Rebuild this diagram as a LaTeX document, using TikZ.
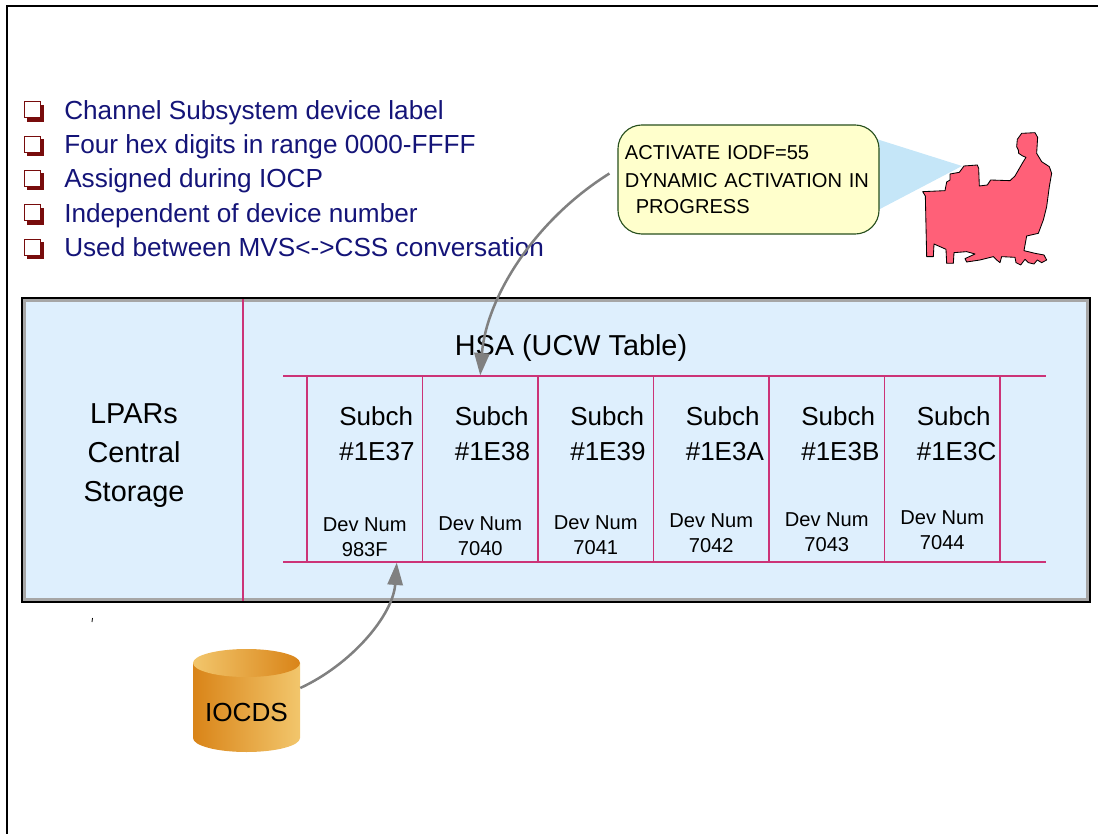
\documentclass[tikz,border=0pt]{standalone}
\usepackage{fontspec}
\setmainfont{Liberation Sans}
\usepackage{xcolor}
\definecolor{marino}{RGB}{20,20,120}
\definecolor{granate}{RGB}{120,12,12}
\definecolor{rosado}{RGB}{204,51,119}
\definecolor{celeste}{RGB}{222,239,253}
\definecolor{crema}{RGB}{255,255,204}
\definecolor{verdeosc}{RGB}{40,80,30}
\definecolor{haz}{RGB}{197,230,248}
\definecolor{salmon}{RGB}{255,96,120}
\definecolor{grisflecha}{RGB}{128,128,128}
\definecolor{naranjaosc}{RGB}{217,132,24}
\definecolor{naranjacla}{RGB}{242,198,108}
\usepackage{tikz}
\usetikzlibrary{positioning, arrows.meta, calc}

\begin{document}
\begin{tikzpicture}[x=0.025cm, y=-0.025cm,
    punto/.style={anchor=base west, text=marino, font=\fontsize{18.6}{22}\selectfont, inner sep=0pt},
    celda/.style={draw=rosado, line width=0.8pt, minimum width=2.8875cm, minimum height=4.65cm, inner sep=0pt},
    flecha/.style={grisflecha, line width=1.8pt, -{Triangle[length=0.56cm, width=0.38cm]}}]
    \useasboundingbox (0,0) rectangle (1098,834);
    % Marco de la pagina
    \draw[line width=0.8pt] (1098,6) -- (7,6) -- (7,834);

    % Lista con casillas
    \foreach \t [count=\i] in {Channel Subsystem device label, Four hex digits in range 0000-FFFF, Assigned during IOCP, Independent of device number, Used between MVS<->CSS conversation} {
        \fill[granate] (27,{70.35+34.35*\i}) rectangle ++(17,17);
        \draw[granate, fill=white, line width=0.7pt] (24,{67.35+34.35*\i}) rectangle ++(16,16);
        \node[punto] (b\i) at (64,{84.95+34.35*\i}) {\t};
    }

    % Globo con el mensaje del operador
    \fill[haz] (870,137) -- (962,166) -- (878,210) -- cycle;
    \node[draw=verdeosc, fill=crema, rounded corners=0.6cm, line width=0.8pt, minimum width=6.525cm, minimum height=2.725cm, text width=6.175cm, inner xsep=0.175cm, align=left, font=\fontsize{14.3}{18.5}\selectfont] (globo) at (748.5,179.5) {\vspace*{0.05cm}ACTIVATE IODF=55\\DYNAMIC ACTIVATION IN\\\hspace*{0.27cm}PROGRESS};

    % Operador en la consola
    \begin{scope}[shift={(900,120)}, scale=0.3333]
        \draw[fill=salmon, line width=0.6pt, line join=round] (68,215) -- (135,212) -- (140,186) -- (150,180) -- (150,162) -- (178,157) -- (192,138) -- (232,135) -- (236,145) -- (238,198) -- (262,195) -- (272,180) -- (330,182) -- (345,168) -- (368,128) -- (378,112) -- (368,108) -- (356,100) -- (355,90) -- (350,80) -- (352,58) -- (365,40) -- (405,38) -- (413,52) -- (410,100) -- (425,125) -- (448,140) -- (455,160) -- (448,200) -- (440,260) -- (430,300) -- (415,340) -- (380,348) -- (372,392) -- (405,400) -- (432,405) -- (440,420) -- (425,428) -- (412,420) -- (402,432) -- (385,428) -- (375,418) -- (362,435) -- (348,428) -- (345,412) -- (305,410) -- (300,428) -- (290,420) -- (280,410) -- (240,420) -- (200,426) -- (195,416) -- (225,402) -- (200,395) -- (162,398) -- (160,430) -- (140,430) -- (138,388) -- (102,372) -- (100,410) -- (80,410) -- (76,228) -- cycle;
    \end{scope}

    % Almacenamiento central
    \fill[celeste] (22,298) rectangle (1090,602);
    \draw[gray!70, line width=2pt] (24.5,300.5) rectangle (1087.5,599.5);
    \draw[line width=1pt] (22,298) rectangle (1090,602);
    \draw[rosado, line width=0.8pt] (243,299) -- (243,601);
    \node[align=center, font=\fontsize{20.5}{27.7}\selectfont] (lpar) at (134,456) {LPARs\\Central\\Storage};
    \node[font=\fontsize{20.5}{24}\selectfont] (hsa) at (571,348) {HSA (UCW Table)};

    % Tabla de subcanales
    \draw[rosado, line width=0.8pt] (283,376) -- (1046,376);
    \draw[rosado, line width=0.8pt] (283,562) -- (1046,562);
    \foreach \s/\d [count=\i] in {1E37/983F, 1E38/7040, 1E39/7041, 1E3A/7042, 1E3B/7043, 1E3C/7044} {
        \node[celda] (c\i) at ({249.25+115.5*\i},469) {};
        \node[anchor=west, align=left, inner sep=0pt, font=\fontsize{18.5}{25}\selectfont] (s\i) at ({223.5+115.5*\i},433.5) {Subch\\\#\s};
        \node[align=center, inner sep=0pt, font=\fontsize{14.3}{17.8}\selectfont] (d\i) at ({249.25+115.5*\i},{539-1.4*\i}) {Dev Num\\\d};
    }

    % Cilindro IOCDS
    \shade[left color=naranjaosc, right color=naranjacla] (193,663) -- (193,738) arc[start angle=180, end angle=0, x radius=53.5, y radius=14] -- (300,663) -- cycle;
    \shade[left color=naranjacla, right color=naranjaosc] (246.5,663) ellipse [x radius=53.5, y radius=14];
    \node[minimum width=2.675cm, inner sep=0pt, font=\fontsize{18.6}{22}\selectfont] (iocds) at (246.5,712) {IOCDS};

    \draw[line width=0.6pt] (92.5,618) -- (92,622);

    % Flechas
    \draw[flecha] ($(globo.west)+(-8,-6)$) .. controls (532,222) and (486,300) .. (c2.north);
    \draw[flecha] ($(iocds.east)+(0,-24)$) .. controls (352,664) and (393,615) .. ($(c1.south)+(32,0)$);
\end{tikzpicture}
\end{document}
